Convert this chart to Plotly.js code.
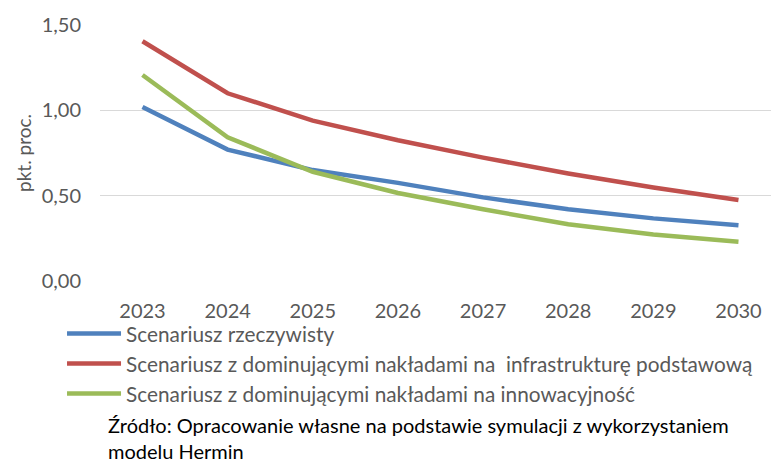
<!DOCTYPE html>
<html>
<head>
<meta charset="utf-8">
<script src="https://cdn.plot.ly/plotly-3.0.1.min.js"></script>
<style>html,body{margin:0;padding:0;background:#fff;}#chart{width:771px;height:462px;}</style>
</head>
<body>
<div id="chart"></div>
<script>
const years = [2023, 2024, 2025, 2026, 2027, 2028, 2029, 2030];
const seriesNames = [
  "Scenariusz rzeczywisty",
  "Scenariusz z dominującymi nakładami na\u00a0 infrastrukturę podstawową",
  "Scenariusz z dominującymi nakładami na innowacyjność"
];
const realValues = [1.02, 0.77, 0.65, 0.575, 0.49, 0.42, 0.367, 0.326];
const infraValues = [1.405, 1.10, 0.94, 0.825, 0.723, 0.63, 0.548, 0.474];
const innovValues = [1.207, 0.842, 0.64, 0.516, 0.42, 0.333, 0.273, 0.23];
const yTicks = [0, 0.5, 1.0, 1.5];
const yAxisTitle = "pkt. proc.";
const sourceLine1 = "Źródło: Opracowanie własne na podstawie symulacji z wykorzystaniem";
const sourceLine2 = "modelu Hermin";

const colors = ["#4F81BD", "#C0504D", "#9BBB59"];
const allValues = [realValues, infraValues, innovValues];
const FONT = "Lato, 'Open Sans', sans-serif";
const FS = 20;

const traces = allValues.map((v, i) => ({
  x: years, y: v, name: seriesNames[i], type: "scatter", mode: "lines",
  line: {color: colors[i], width: 4.5},
  legendgroup: "g" + i
}));

const layout = {
  width: 771, height: 462,
  margin: {l: 100, r: 0, t: 25, b: 181},
  paper_bgcolor: "#fff", plot_bgcolor: "#fff",
  separators: ", ",
  font: {family: FONT, size: FS, color: "#595959"},
  showlegend: true,
  legend: {
    x: -0.0566, xanchor: "left", y: -0.127, yanchor: "top",
    orientation: "v", tracegroupgap: 0, itemwidth: 54,
    font: {family: FONT, size: 20.8, color: "#595959"},
    bgcolor: "rgba(0,0,0,0)"
  },
  xaxis: {
    type: "linear", range: [2022.5008, 2030.382],
    tickvals: years, ticktext: years.map(String),
    showgrid: false, zeroline: false, showline: false,
    ticks: "", ticklabelstandoff: 16,
    tickfont: {family: FONT, size: FS, color: "#595959"}
  },
  yaxis: {
    range: [0, 1.5], tickvals: yTicks, tickformat: ".2f",
    showgrid: true, gridcolor: "#d9d9d9", gridwidth: 1.3,
    zeroline: false, showline: false, ticks: "", ticklabelstandoff: 18,
    tickfont: {family: FONT, size: FS, color: "#595959"},
    title: {text: yAxisTitle, font: {family: FONT, size: 19, color: "#595959"}, standoff: 5}
  },
  annotations: [
    {text: sourceLine1, xref: "paper", yref: "paper", x: 0.009, y: (281 - 425) / 256,
     xanchor: "left", yanchor: "middle", showarrow: false,
     font: {family: FONT, size: FS, color: "#000"}},
    {text: sourceLine2, xref: "paper", yref: "paper", x: 0.009, y: (281 - 450.5) / 256,
     xanchor: "left", yanchor: "middle", showarrow: false,
     font: {family: FONT, size: FS, color: "#000"}}
  ]
};

Plotly.newPlot("chart", traces, layout, {displayModeBar: false, staticPlot: true});
</script>
</body>
</html>
